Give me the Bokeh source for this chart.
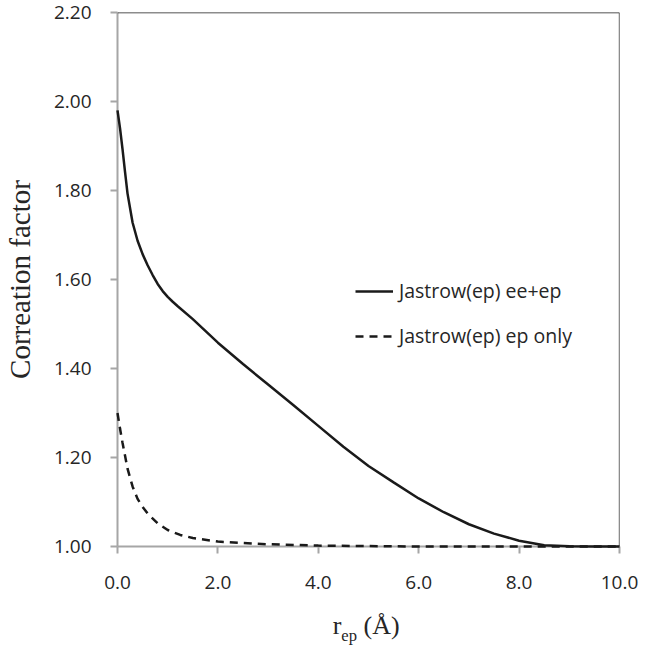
from bokeh.plotting import figure
from bokeh.models import Range1d, FixedTicker, Legend, LegendItem, Span, Div
from bokeh.layouts import column
from bokeh.embed import file_html
from bokeh.resources import INLINE

# ---- data ----
r_ee_ep = [0.0, 0.05, 0.1, 0.15, 0.2, 0.3, 0.4, 0.5, 0.6, 0.7, 0.8, 0.9, 1.0, 1.1, 1.2, 1.5,
           2.0, 2.5, 3.0, 3.5, 4.0, 4.5, 5.0, 5.5, 6.0, 6.5, 7.0, 7.5, 8.0, 8.5, 9.0, 9.5, 10.0]
f_ee_ep = [1.980, 1.940, 1.893, 1.842, 1.793, 1.728, 1.687, 1.657, 1.632, 1.610, 1.590, 1.574,
           1.561, 1.550, 1.540, 1.511, 1.458, 1.410, 1.364, 1.318, 1.271, 1.224, 1.181, 1.144,
           1.108, 1.077, 1.050, 1.029, 1.013, 1.003, 1.0005, 1.0, 1.0]

r_ep_only = [0.0, 0.05, 0.1, 0.2, 0.3, 0.4, 0.5, 0.6, 0.8, 1.0, 1.25, 1.5, 2.0, 2.5, 3.0,
             4.0, 5.0, 6.0, 8.0, 10.0]
f_ep_only = [1.300, 1.265, 1.233, 1.175, 1.135, 1.107, 1.089, 1.074, 1.052, 1.037, 1.026,
             1.019, 1.011, 1.008, 1.005, 1.002, 1.001, 1.0, 1.0, 1.0]

series_labels = ["Jastrow(ep) ee+ep", "Jastrow(ep) ep only"]

x_min, x_max = 0.0, 10.0
y_min, y_max = 1.0, 2.2
x_ticks = [0, 2, 4, 6, 8, 10]
x_tick_labels = ["0.0", "2.0", "4.0", "6.0", "8.0", "10.0"]
y_ticks = [1.0, 1.2, 1.4, 1.6, 1.8, 2.0, 2.2]
y_tick_labels = ["1.00", "1.20", "1.40", "1.60", "1.80", "2.00", "2.20"]
y_title = "Correation factor"
x_title_main, x_title_sub, x_title_unit = "r", "ep", "(Å)"

AXIS_GRAY = "#a6a6a6"
LINE_COL = "#1a1a1a"
TEXT_COL = "#262626"

p = figure(width=639, height=605, output_backend="svg", toolbar_location=None,
           x_range=Range1d(x_min, x_max), y_range=Range1d(y_min, y_max),
           min_border_left=114, min_border_right=20, min_border_top=12, min_border_bottom=59)

p.outline_line_color = None
p.xgrid.visible = False
p.ygrid.visible = False
p.background_fill_color = "white"
p.border_fill_color = "white"

for ax in (p.xaxis[0], p.yaxis[0]):
    ax.axis_line_color = AXIS_GRAY
    ax.axis_line_width = 2
    ax.major_tick_line_color = AXIS_GRAY
    ax.major_tick_line_width = 2
    ax.major_tick_in = 0
    ax.major_tick_out = 7
    ax.minor_tick_line_color = None
    ax.major_label_text_font = "Open Sans"
    ax.major_label_text_font_size = "19px"
    ax.major_label_text_color = TEXT_COL

p.xaxis.ticker = FixedTicker(ticks=x_ticks)
p.xaxis.major_label_overrides = {t: l for t, l in zip(x_ticks, x_tick_labels)}
p.xaxis.major_label_standoff = 22

p.yaxis.ticker = FixedTicker(ticks=y_ticks)
p.yaxis.major_label_overrides = {t: l for t, l in zip(y_ticks, y_tick_labels)}
p.yaxis.major_label_standoff = 19
p.yaxis.axis_label = y_title
p.yaxis.axis_label_text_font = "Liberation Serif"
p.yaxis.axis_label_text_font_size = "29px"
p.yaxis.axis_label_text_font_style = "normal"
p.yaxis.axis_label_text_color = TEXT_COL
p.yaxis.axis_label_standoff = 15

# top and right frame lines (black)
p.add_layout(Span(location=y_max, dimension="width", line_color=LINE_COL, line_width=1.3))
p.add_layout(Span(location=x_max, dimension="height", line_color=LINE_COL, line_width=1.3))

r1 = p.line(r_ee_ep, f_ee_ep, line_color=LINE_COL, line_width=2.5, level="annotation")
r2 = p.line(r_ep_only, f_ep_only, line_color=LINE_COL, line_width=2.5, line_dash="8 6",
            level="annotation")

legend = Legend(items=[LegendItem(label=series_labels[0], renderers=[r1]),
                       LegendItem(label=series_labels[1], renderers=[r2])],
                location=(238, 197), orientation="vertical",
                border_line_color=None, background_fill_alpha=0,
                padding=0, margin=0, spacing=18,
                glyph_width=38, glyph_height=26, label_height=26, label_standoff=6,
                label_text_font="Open Sans", label_text_font_size="19.5px",
                label_text_color=TEXT_COL)
p.add_layout(legend)

# x-axis title with a real subscript: r_ep (Å)
title_html = (
    '<div style="margin:0; padding:6px 0 0 332.7px; font-family:\'Liberation Serif\'; '
    'font-size:26px; line-height:30px; color:%s; white-space:nowrap;">'
    '%s<sub style="font-size:16.6px; line-height:0; vertical-align:-7px;">%s</sub> %s</div>'
    % (TEXT_COL, x_title_main, x_title_sub, x_title_unit)
)
x_title = Div(text=title_html, width=639, height=32, margin=0)

layout = column(p, x_title, spacing=0)

open("out.html", "w").write(file_html(layout, INLINE))
